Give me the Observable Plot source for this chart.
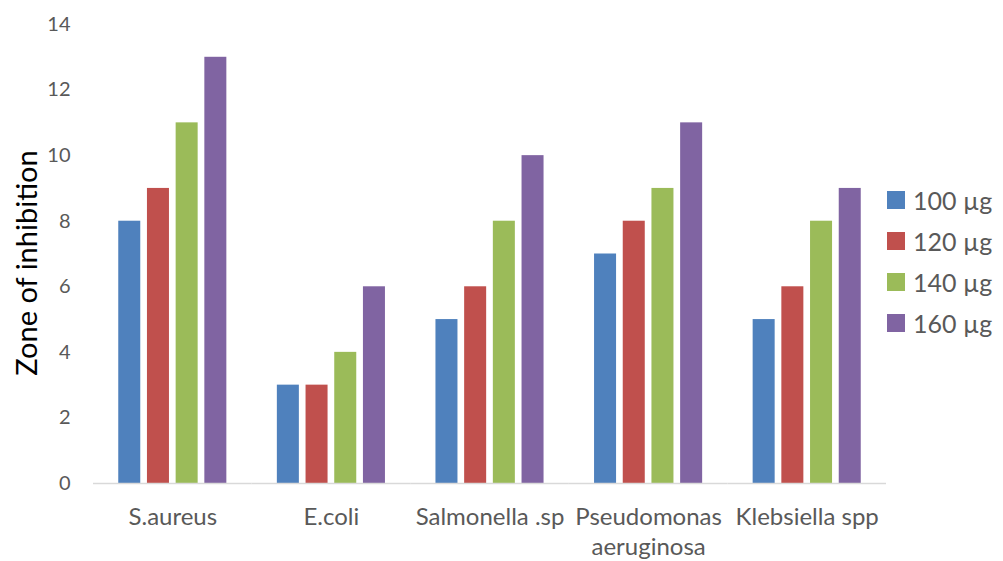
<!DOCTYPE html>
<html><head><meta charset="utf-8">
<script src="https://cdn.jsdelivr.net/npm/d3@7"></script>
<script src="https://cdn.jsdelivr.net/npm/@observablehq/plot@0.6"></script>
<style>
body{margin:0;background:#fff;font-family:Lato,"Open Sans",sans-serif}
#wrap{position:relative;width:1003px;height:561px;overflow:hidden}
#legend{position:absolute;left:887px;top:179px}
.item{display:flex;align-items:center;height:41px;font-size:25px;color:#595959;white-space:nowrap}
.sw{width:18px;height:18px;margin-right:8px;flex:none}
</style></head><body><div id="wrap"><div id="legend"></div></div>
<script>
const categories = ["S.aureus", "E.coli", "Salmonella .sp", "Pseudomonas aeruginosa", "Klebsiella spp"];
const categoryLabels = ["S.aureus", "E.coli", "Salmonella .sp", "Pseudomonas\naeruginosa", "Klebsiella spp"];
const doses = ["100 µg", "120 µg", "140 µg", "160 µg"];
const colors = ["#4F81BD", "#C0504D", "#9BBB59", "#8064A2"];
const dose100 = [8, 3, 5, 7, 5];
const dose120 = [9, 3, 6, 8, 6];
const dose140 = [11, 4, 8, 9, 8];
const dose160 = [13, 6, 10, 11, 9];
const yTicks = [0, 2, 4, 6, 8, 10, 12, 14];
const yLabel = "Zone of inhibition";

const series = [dose100, dose120, dose140, dose160];
const table = [];
categories.forEach((c, i) => series.forEach((s, j) => table.push({category: c, dose: doses[j], value: s[i]})));

const chart = Plot.plot({
  width: 1003, height: 561,
  marginLeft: 93, marginRight: 117, marginTop: 24, marginBottom: 78,
  style: {fontFamily: "Lato, 'Open Sans', sans-serif", background: "white", color: "#595959"},
  fx: {domain: categories, padding: 0, label: null, round: false},
  x: {domain: doses, paddingInner: 0.233, paddingOuter: 0.88, round: false, axis: null},
  y: {domain: [0, 14]},
  color: {domain: doses, range: colors},
  marks: [
    Plot.barY(table, {fx: "category", x: "dose", y: "value", fill: "dose"}),
    Plot.ruleY([0], {stroke: "#d9d9d9", strokeWidth: 1.5}),
    Plot.axisFx({anchor: "bottom", tickSize: 0, tickPadding: 20, fontSize: 24, label: null, lineHeight: 1.25,
      fill: "#595959", tickFormat: d => categoryLabels[categories.indexOf(d)]}),
    Plot.axisY({ticks: yTicks, tickSize: 0, tickPadding: 23, fontSize: 20, fill: "#595959", label: null})
  ]
});
document.getElementById("wrap").prepend(chart);

// y-axis title (rotated)
const yt = document.createElement("div");
yt.textContent = yLabel;
Object.assign(yt.style, {position: "absolute", left: "25px", top: "263px", transform: "translate(-50%,-50%) rotate(-90deg)",
  fontSize: "29px", color: "#000", whiteSpace: "nowrap"});
document.getElementById("wrap").appendChild(yt);

const legend = document.getElementById("legend");
doses.forEach((d, i) => {
  const it = document.createElement("div"); it.className = "item";
  const sw = document.createElement("span"); sw.className = "sw"; sw.style.background = colors[i];
  it.appendChild(sw); it.appendChild(document.createTextNode(d));
  legend.appendChild(it);
});
</script></body></html>
